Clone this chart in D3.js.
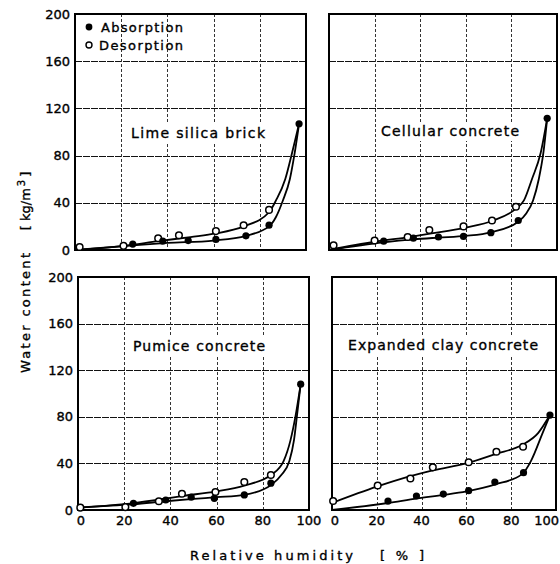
<!DOCTYPE html>
<html><head><meta charset="utf-8">
<script src="https://cdn.jsdelivr.net/npm/d3@7"></script>
<style>
body{margin:0;background:#fff;}
svg{display:block;font-family:"DejaVu Sans",sans-serif;}
text{fill:#000;stroke:#000;stroke-width:0.35px;}
</style></head>
<body><svg id="c" width="560" height="564"></svg>
<script>
// ---------- data ----------
const yTicks = [0, 40, 80, 120, 160, 200];
const xTicks = [0, 20, 40, 60, 80, 100];
const panelTitles = ["Lime silica brick", "Cellular concrete", "Pumice concrete", "Expanded clay concrete"];
const legendLabels = ["Absorption", "Desorption"];

// Lime silica brick
const limeAbsRH = [25, 38, 49, 61, 74, 84, 97];
const limeAbsW  = [5, 7.5, 8, 9, 12, 21, 107];
const limeDesRH = [2, 21, 36, 45, 61, 73, 84];
const limeDesW  = [2.5, 3.5, 10, 12.5, 16, 21, 34];
const limeAbsCurve = [[0,0],[25,4],[40,6],[60,8],[74,12],[84,20],[87,28],[90,42],[93,60],[95,81],[97,107]];
const limeDesCurve = [[0,0],[21,3.5],[36,7.5],[50,11],[61,14],[73,20],[84,32],[87,42],[91,60],[93.8,81],[97,107]];

// Cellular concrete
const cellAbsRH = [24, 37, 48, 59, 71, 83, 95.7];
const cellAbsW  = [7.5, 10, 11, 11.5, 14.7, 25, 111.6];
const cellDesRH = [2, 20, 34.5, 44, 59, 71.5, 82];
const cellDesW  = [4, 8, 11, 17, 20, 25, 36.7];
const cellAbsCurve = [[0,0],[24,6.5],[37,9],[48,10.5],[60,12],[71,15],[83,24],[86.5,31],[89.5,42],[92,60],[94,82],[95.7,111.6]];
const cellDesCurve = [[0,0],[20,7],[35,11],[45,14],[60,19],[72,25],[82,35],[85.5,42],[89,60],[92.8,82],[95.7,111.6]];

// Pumice concrete
const pumAbsRH = [24, 38, 49, 59, 72, 83.5, 96.4];
const pumAbsW  = [5.7, 8.6, 11, 10, 12.9, 23, 108];
const pumDesRH = [1, 20.5, 35, 45, 59.5, 72, 83.5];
const pumDesW  = [2, 2.5, 7.5, 14, 15.5, 24, 30];
const pumAbsCurve = [[0,2],[24,5],[38,7.5],[50,9.5],[60,11],[72,13],[84,22],[88,30],[91.5,42],[93.5,60],[94.8,81],[96.4,108]];
const pumDesCurve = [[0,2],[20,5],[35,9],[45,12],[60,16],[72,21],[83.5,30],[89,42],[92,60],[94.2,81],[96.4,108]];

// Expanded clay concrete
const clayAbsRH = [25, 37.7, 49.7, 61, 72.7, 85.5, 97.3];
const clayAbsW  = [7.7, 12, 13.7, 16.6, 24, 32, 81.5];
const clayDesRH = [0.5, 20.4, 35, 45, 61, 73.4, 85.3];
const clayDesW  = [7.7, 21, 27, 36.6, 41, 50, 54.3];
const clayAbsCurve = [[0,0],[25,6],[38,10],[50,13],[60,16],[73,22],[85,31],[88.8,42],[94,66],[97.3,81.5]];
const clayDesCurve = [[0,6],[20,20],[35,29],[45,34],[60,40],[73,48],[85,56],[92,66],[97.3,81.5]];

const panels = [
  {title: panelTitles[0], x0: 75,  x1: 306, y0: 14,  y1: 250, yLab: true,  xLab: false,
   absRH: limeAbsRH, absW: limeAbsW, desRH: limeDesRH, desW: limeDesW, absC: limeAbsCurve, desC: limeDesCurve,
   tx: 198, ty: 138, tl: 134, legend: true},
  {title: panelTitles[1], x0: 329, x1: 557, y0: 14,  y1: 250, yLab: false, xLab: false,
   absRH: cellAbsRH, absW: cellAbsW, desRH: cellDesRH, desW: cellDesW, absC: cellAbsCurve, desC: cellDesCurve,
   tx: 450, ty: 136, tl: 138},
  {title: panelTitles[2], x0: 78,  x1: 309, y0: 277, y1: 510, yLab: true,  xLab: true,
   absRH: pumAbsRH, absW: pumAbsW, desRH: pumDesRH, desW: pumDesW, absC: pumAbsCurve, desC: pumDesCurve,
   tx: 199, ty: 351, tl: 132},
  {title: panelTitles[3], x0: 332, x1: 556, y0: 277, y1: 510, yLab: false, xLab: true,
   absRH: clayAbsRH, absW: clayAbsW, desRH: clayDesRH, desW: clayDesW, absC: clayAbsCurve, desC: clayDesCurve,
   tx: 443, ty: 350, tl: 190}
];

const svg = d3.select("#c");

panels.forEach((p, pi) => {
  const x = d3.scaleLinear().domain([0, 100]).range([p.x0, p.x1]);
  const y = d3.scaleLinear().domain([0, 200]).range([p.y1, p.y0]);
  const g = svg.append("g");

  // grid
  g.selectAll(".hg").data(yTicks.slice(1, -1)).join("line")
    .attr("x1", p.x0).attr("x2", p.x1).attr("y1", d => Math.round(y(d)) + 0.5).attr("y2", d => Math.round(y(d)) + 0.5)
    .attr("stroke", "#111").attr("stroke-width", 1).attr("stroke-dasharray", "7,1");
  g.selectAll(".vg").data(xTicks.slice(1, -1)).join("line")
    .attr("y1", p.y0).attr("y2", p.y1).attr("x1", d => Math.round(x(d)) + 0.5).attr("x2", d => Math.round(x(d)) + 0.5)
    .attr("stroke", "#333").attr("stroke-width", 1).attr("stroke-dasharray", "3,2");

  // frame
  g.append("rect").attr("x", p.x0).attr("y", p.y0)
    .attr("width", p.x1 - p.x0).attr("height", p.y1 - p.y0)
    .attr("fill", "none").attr("stroke", "#000").attr("stroke-width", 2);

  // y tick labels
  if (p.yLab) {
    g.selectAll(".yl").data(yTicks).join("text")
      .attr("x", p.x0 - 5).attr("y", d => y(d)).attr("dy", "0.36em")
      .attr("text-anchor", "end").attr("font-size", 13).text(d => d);
  }
  if (p.xLab) {
    const edge = d => d === 100 && pi === 3;
    g.selectAll(".xl").data(xTicks).join("text")
      .attr("x", d => edge(d) ? 559 : x(d) + (d === 0 ? 3 : 0)).attr("y", p.y1 + 15)
      .attr("text-anchor", d => edge(d) ? "end" : "middle").attr("font-size", 13).text(d => d);
  }

  // title
  g.append("rect").attr("x", p.tx - p.tl / 2 - 4).attr("y", p.ty - 14)
    .attr("width", p.tl + 8).attr("height", 19).attr("fill", "#fff");
  g.append("text").attr("x", p.tx).attr("y", p.ty).attr("text-anchor", "middle")
    .attr("font-size", 14).attr("textLength", p.tl).attr("lengthAdjust", "spacing")
    .text(p.title);

  // curves
  const line = d3.line().x(d => x(d[0])).y(d => y(d[1])).curve(d3.curveMonotoneX);
  [p.absC, p.desC].forEach(c => {
    g.append("path").attr("d", line(c)).attr("fill", "none")
      .attr("stroke", "#000").attr("stroke-width", 1.8);
  });

  // points
  const des = p.desRH.map((r, i) => [r, p.desW[i]]);
  const abs = p.absRH.map((r, i) => [r, p.absW[i]]);
  g.selectAll(".dp").data(des).join("circle")
    .attr("cx", d => x(d[0])).attr("cy", d => y(d[1])).attr("r", 3.3)
    .attr("fill", "#fff").attr("stroke", "#000").attr("stroke-width", 1.5);
  g.selectAll(".ap").data(abs).join("circle")
    .attr("cx", d => x(d[0])).attr("cy", d => y(d[1])).attr("r", 3.6)
    .attr("fill", "#000");

  // legend
  if (p.legend) {
    const lg = g.append("g");
    lg.append("circle").attr("cx", 89).attr("cy", 27).attr("r", 3.4).attr("fill", "#000");
    lg.append("circle").attr("cx", 89).attr("cy", 45).attr("r", 3).attr("fill", "#fff")
      .attr("stroke", "#000").attr("stroke-width", 1.4);
    lg.append("text").attr("x", 101).attr("y", 32).attr("font-size", 13)
      .attr("textLength", 82).attr("lengthAdjust", "spacing").text(legendLabels[0]);
    lg.append("text").attr("x", 99).attr("y", 50).attr("font-size", 13)
      .attr("textLength", 84).attr("lengthAdjust", "spacing").text(legendLabels[1]);
  }
});

// axis titles
svg.append("text")
  .attr("transform", "translate(30,313) rotate(-90)")
  .attr("text-anchor", "middle").attr("font-size", 13)
  .attr("textLength", 120).attr("lengthAdjust", "spacing")
  .text("Water content");
const yt2 = svg.append("text")
  .attr("transform", "translate(30,201) rotate(-90)")
  .attr("text-anchor", "middle").attr("font-size", 13);
yt2.append("tspan").text("[ kg/m");
yt2.append("tspan").attr("dy", -5).attr("font-size", 10).attr("dx", 2).text("3");
yt2.append("tspan").attr("dy", 5).attr("dx", 3).text("]");

svg.append("text").attr("x", 190).attr("y", 560).attr("font-size", 13)
  .attr("textLength", 163).attr("lengthAdjust", "spacing").text("Relative  humidity");
svg.append("text").attr("x", 380).attr("y", 560).attr("font-size", 13)
  .attr("textLength", 44).attr("lengthAdjust", "spacing").text("[ % ]");
</script></body></html>
